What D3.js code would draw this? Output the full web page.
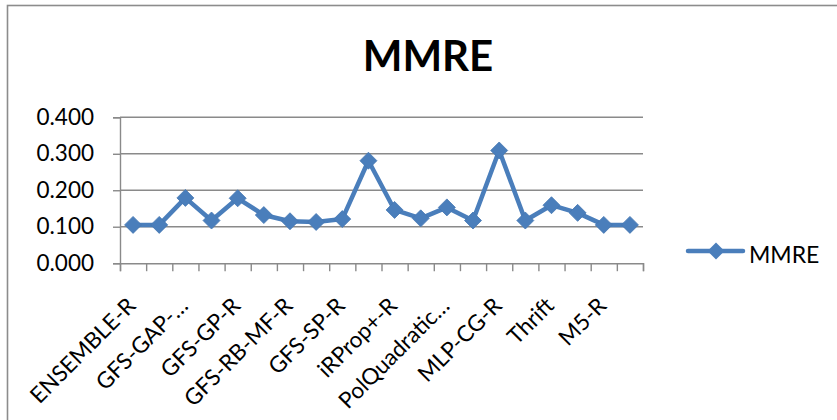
<!DOCTYPE html>
<html>
<head>
<meta charset="utf-8">
<script src="https://cdn.jsdelivr.net/npm/d3@7"></script>
<style>
  html, body { margin: 0; padding: 0; background: #fff; }
  svg { display: block; font-family: Lato, "Open Sans", sans-serif; }
</style>
</head>
<body>
<svg id="chart" width="837" height="420"></svg>
<script>
// Methods compared, in plotting order
const categories = [
  "ENSEMBLE-R", "CART-R", "GFS-GAP-Sym-R", "GFS-GSP-R", "GFS-GP-R",
  "GFS-SAP-Sym-R", "GFS-RB-MF-R", "MOGUL-TSK-R", "GFS-SP-R", "Incr-RBFN-R",
  "iRProp+-R", "LinearLMS-R", "PolQuadraticLMS-R", "NU_SVR-R", "MLP-CG-R",
  "RBFN-R", "Thrift", "WM-R", "M5-R", "M5Rules-R"
];

// Mean magnitude of relative error per method
const mmre = [
  0.105, 0.105, 0.179, 0.117, 0.178,
  0.132, 0.115, 0.113, 0.121, 0.281,
  0.146, 0.123, 0.153, 0.117, 0.309,
  0.117, 0.159, 0.138, 0.105, 0.105
];

// Category labels shown on the axis (every second method, truncated as displayed)
const tickLabels = [
  "ENSEMBLE-R", "GFS-GAP-…", "GFS-GP-R", "GFS-RB-MF-R", "GFS-SP-R",
  "iRProp+-R", "PolQuadratic…", "MLP-CG-R", "Thrift", "M5-R"
];

const yTicks = [0, 0.1, 0.2, 0.3, 0.4];

const seriesName = "MMRE";
const lineColor = "#4a7ebb";
const gridColor = "#8a8a8a";

const svg = d3.select("#chart");

// outer chart frame
svg.append("rect")
  .attr("x", 7.5).attr("y", 5.5)
  .attr("width", 900).attr("height", 500)
  .attr("fill", "none")
  .attr("stroke", "#8c8c8c")
  .attr("stroke-width", 1.6);

const plot = { left: 120, right: 643, top: 117.3, bottom: 263.2 };

const x = d3.scaleBand().domain(categories).range([plot.left, plot.right]).padding(0);
const xIdx = d3.scaleLinear().domain([0, categories.length]).range([plot.left, plot.right]);
const y = d3.scaleLinear().domain([0, 0.4]).range([plot.bottom, plot.top]);

// horizontal gridlines
svg.append("g")
  .selectAll("line")
  .data(yTicks.slice(1))
  .join("line")
  .attr("x1", plot.left).attr("x2", plot.right)
  .attr("y1", d => y(d)).attr("y2", d => y(d))
  .attr("stroke", gridColor).attr("stroke-width", 1.4);

// y axis
const yAxis = svg.append("g")
  .attr("transform", `translate(${plot.left},0)`)
  .call(d3.axisLeft(y).tickValues(yTicks).tickFormat(d3.format(".3f")).tickSize(7).tickPadding(19));
yAxis.select(".domain").attr("stroke", gridColor).attr("stroke-width", 1.4);
yAxis.selectAll(".tick line").attr("stroke", gridColor).attr("stroke-width", 1.4);
yAxis.selectAll(".tick text")
  .attr("font-size", 22.5).attr("fill", "#000")
  .attr("font-family", "Lato, sans-serif");

// x axis: tick marks on category boundaries
const xTickAxis = svg.append("g")
  .attr("transform", `translate(0,${plot.bottom})`)
  .call(d3.axisBottom(xIdx).tickValues(d3.range(categories.length + 1)).tickFormat("").tickSize(8));
xTickAxis.select(".domain").attr("stroke", gridColor).attr("stroke-width", 1.4);
xTickAxis.selectAll(".tick line").attr("stroke", gridColor).attr("stroke-width", 1.4);

// x axis: rotated category labels on every second method
const labelled = categories.filter((_, i) => i % 2 === 0);
const xLabelAxis = svg.append("g")
  .attr("transform", `translate(0,${plot.bottom})`)
  .call(d3.axisBottom(x).tickValues(labelled).tickFormat((d, i) => tickLabels[i]).tickSize(0));
xLabelAxis.select(".domain").remove();
xLabelAxis.selectAll(".tick text")
  .attr("font-size", 22.5).attr("fill", "#000")
  .attr("font-family", "Lato, sans-serif")
  .attr("text-anchor", "end")
  .attr("dy", null).attr("y", 0)
  .attr("transform", "translate(4,44) rotate(-45)");

// diamond marker path
const diamond = r => `M0,${-r}L${r},0L0,${r}L${-r},0Z`;

// series line
const line = d3.line()
  .x((d, i) => x(categories[i]) + x.bandwidth() / 2)
  .y(d => y(d));

svg.append("path")
  .datum(mmre)
  .attr("d", line)
  .attr("fill", "none")
  .attr("stroke", lineColor)
  .attr("stroke-width", 4.5)
  .attr("stroke-linejoin", "round");

svg.append("g")
  .selectAll("path")
  .data(mmre)
  .join("path")
  .attr("d", diamond(8.5))
  .attr("transform", (d, i) => `translate(${x(categories[i]) + x.bandwidth() / 2},${y(d)})`)
  .attr("fill", lineColor)
  .attr("stroke", "#4577b3")
  .attr("stroke-width", 0.8);

// title
svg.append("text")
  .attr("x", 428).attr("y", 71)
  .attr("text-anchor", "middle")
  .attr("font-size", 42)
  .attr("font-weight", "bold")
  .attr("font-family", "Lato, sans-serif")
  .attr("fill", "#000")
  .text(seriesName);

// legend
const legend = svg.append("g").attr("transform", "translate(688,251)");
legend.append("line")
  .attr("x1", 0).attr("x2", 55)
  .attr("stroke", lineColor).attr("stroke-width", 4.5).attr("stroke-linecap", "round");
legend.append("path")
  .attr("d", diamond(8.5))
  .attr("transform", "translate(28,0)")
  .attr("fill", lineColor);
legend.append("text")
  .attr("x", 61).attr("y", 12.3)
  .attr("font-size", 23)
  .attr("font-family", "Lato, sans-serif")
  .attr("fill", "#000")
  .text(seriesName);
</script>
</body>
</html>
